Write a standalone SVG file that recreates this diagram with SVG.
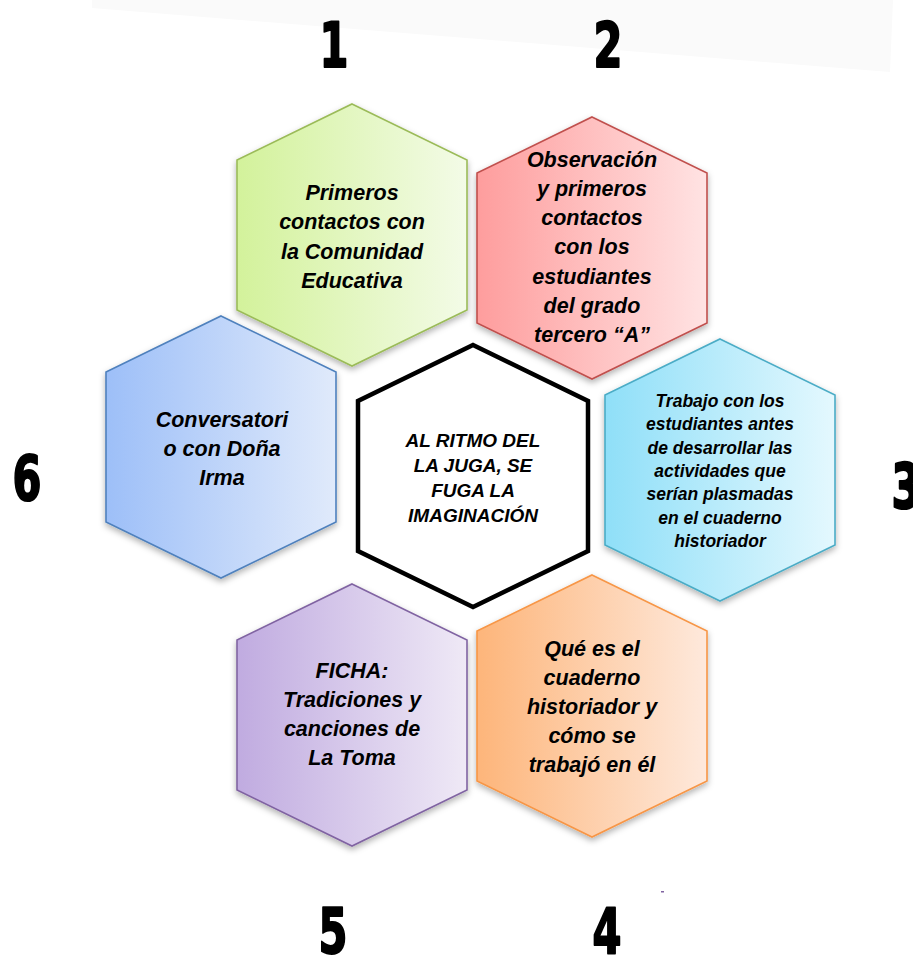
<svg xmlns="http://www.w3.org/2000/svg" width="913" height="962" viewBox="0 0 913 962">
<defs>
<path id="hex" d="M0,-131 L115,-75 L115,75 L0,131 L-115,75 L-115,-75 Z"/>
<linearGradient id="gGreen" x1="0" y1="0" x2="1" y2="0"><stop offset="0" stop-color="#d3f29b"/><stop offset="1" stop-color="#f3fbe7"/></linearGradient>
<linearGradient id="gRed" x1="0" y1="0" x2="1" y2="0"><stop offset="0" stop-color="#fe9d9d"/><stop offset="1" stop-color="#ffe3e3"/></linearGradient>
<linearGradient id="gCyan" x1="0" y1="0" x2="1" y2="0"><stop offset="0" stop-color="#8fdff8"/><stop offset="1" stop-color="#e4f8fe"/></linearGradient>
<linearGradient id="gOrange" x1="0" y1="0" x2="1" y2="0"><stop offset="0" stop-color="#fdb57a"/><stop offset="1" stop-color="#fee9dc"/></linearGradient>
<linearGradient id="gPurple" x1="0" y1="0" x2="1" y2="0"><stop offset="0" stop-color="#c0abe0"/><stop offset="1" stop-color="#efe9f6"/></linearGradient>
<linearGradient id="gBlue" x1="0" y1="0" x2="1" y2="0"><stop offset="0" stop-color="#9dbff8"/><stop offset="1" stop-color="#e0eafb"/></linearGradient>
<filter id="sh" x="-20%" y="-20%" width="140%" height="140%"><feDropShadow dx="0" dy="3" stdDeviation="3" flood-color="#000" flood-opacity="0.3"/></filter>
</defs>
<style>
.t{font-family:"Liberation Sans",Arial,sans-serif;font-weight:bold;font-style:italic;font-size:21.5px;fill:#000;text-anchor:middle}
.ts{font-size:17.5px}
.tc{font-family:"Liberation Sans",Arial,sans-serif;font-weight:bold;font-style:italic;font-size:19px;fill:#000;text-anchor:middle}
.num{font-family:"DejaVu Sans","Liberation Sans",sans-serif;font-weight:bold;font-size:63px;fill:#000;stroke:#000;stroke-width:2.2;stroke-linejoin:round;text-anchor:middle}
.hx{stroke-width:1.6;filter:url(#sh)}
</style>
<rect width="913" height="962" fill="#ffffff"/>
<polygon points="92,0 893,0 890,72 92,8" fill="#fafafa"/>

<g id="connectors"/>

<g id="node1">
<use href="#hex" transform="translate(352,235)" fill="url(#gGreen)" stroke="#9bbb59" class="hx"/>
<text class="t" x="352" y="200">Primeros</text>
<text class="t" x="352" y="229.3">contactos con</text>
<text class="t" x="352" y="258.7">la Comunidad</text>
<text class="t" x="352" y="288">Educativa</text>
</g>

<g id="node2">
<use href="#hex" transform="translate(592,248)" fill="url(#gRed)" stroke="#c0504d" class="hx"/>
<text class="t" x="592" y="166.7">Observación</text>
<text class="t" x="592" y="195.9">y primeros</text>
<text class="t" x="592" y="225.1">contactos</text>
<text class="t" x="592" y="254.3">con los</text>
<text class="t" x="592" y="283.5">estudiantes</text>
<text class="t" x="592" y="312.7">del grado</text>
<text class="t" x="592" y="341.9">tercero “A”</text>
</g>

<g id="node3">
<use href="#hex" transform="translate(720,470)" fill="url(#gCyan)" stroke="#4bacc6" class="hx"/>
<text class="t ts" x="720" y="407">Trabajo con los</text>
<text class="t ts" x="720" y="430.3">estudiantes antes</text>
<text class="t ts" x="720" y="453.6">de desarrollar las</text>
<text class="t ts" x="720" y="476.9">actividades que</text>
<text class="t ts" x="720" y="500.2">serían plasmadas</text>
<text class="t ts" x="720" y="523.5">en el cuaderno</text>
<text class="t ts" x="720" y="546.8">historiador</text>
</g>

<g id="node4">
<use href="#hex" transform="translate(592,706)" fill="url(#gOrange)" stroke="#f79646" class="hx"/>
<text class="t" x="592" y="656">Qué es el</text>
<text class="t" x="592" y="684.9">cuaderno</text>
<text class="t" x="592" y="713.8">historiador y</text>
<text class="t" x="592" y="742.7">cómo se</text>
<text class="t" x="592" y="771.6">trabajó en él</text>
</g>

<g id="node5">
<use href="#hex" transform="translate(352,715)" fill="url(#gPurple)" stroke="#8064a2" class="hx"/>
<text class="t" x="352" y="678.3">FICHA:</text>
<text class="t" x="352" y="707.2">Tradiciones y</text>
<text class="t" x="352" y="736.1">canciones de</text>
<text class="t" x="352" y="765">La Toma</text>
</g>

<g id="node6">
<use href="#hex" transform="translate(221,447)" fill="url(#gBlue)" stroke="#4f81bd" class="hx"/>
<text class="t" x="222" y="426.7">Conversatori</text>
<text class="t" x="222" y="455.9">o con Doña</text>
<text class="t" x="222" y="485.1">Irma</text>
</g>

<g id="center">
<use href="#hex" transform="translate(473,476)" fill="#ffffff" stroke="#000000" stroke-width="4.5" stroke-linejoin="miter"/>
<text class="tc" x="473" y="446.7">AL RITMO DEL</text>
<text class="tc" x="473" y="471.7">LA JUGA, SE</text>
<text class="tc" x="473" y="496.7">FUGA LA</text>
<text class="tc" x="473" y="521.7">IMAGINACIÓN</text>
</g>

<g id="numbers">
<text class="num" transform="translate(334,67) scale(0.66,1)">1</text>
<text class="num" transform="translate(608,67) scale(0.66,1)">2</text>
<text class="num" transform="translate(906,508) scale(0.66,1)">3</text>
<text class="num" transform="translate(607,953) scale(0.66,1)">4</text>
<text class="num" transform="translate(333,953) scale(0.66,1)">5</text>
<text class="num" transform="translate(27,500) scale(0.66,1)">6</text>
</g>
<rect x="661" y="891" width="3" height="1.5" fill="#8064a2"/>
</svg>
